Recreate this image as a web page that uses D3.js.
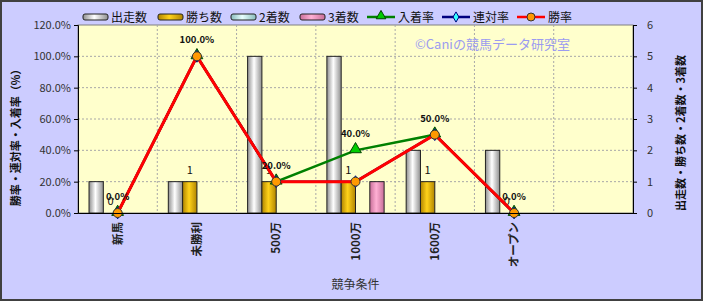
<!DOCTYPE html>
<html>
<head>
<meta charset="utf-8">
<script src="https://cdn.jsdelivr.net/npm/d3@7"></script>
<style>
body { margin: 0; background: #fff; }
text { font-family: "Noto Sans CJK JP", "DejaVu Sans", sans-serif; }
</style>
</head>
<body>
<div id="chart"></div>
<script>
var svgWidth = 703;
var svgHeight = 301;

// data
var categories = ["新馬", "未勝利", "500万", "1000万", "1600万", "オープン", ""];
var starts = [1, 1, 5, 5, 2, 2, null];      // 出走数
var wins = [0, 1, 1, 1, 1, 0, null];        // 勝ち数
var seconds = [0, 0, 0, 0, 0, 0, null];     // 2着数
var thirds = [0, 0, 0, 1, 0, 0, null];      // 3着数
var placeRate = [0, 1, 0.2, 0.4, 0.5, 0];   // 入着率
var top2Rate = [0, 1, 0.2, 0.2, 0.5, 0];    // 連対率
var winRate = [0, 1, 0.2, 0.2, 0.5, 0];     // 勝率
var leftTicks = [0, 0.2, 0.4, 0.6, 0.8, 1.0, 1.2];
var rightTicks = [0, 1, 2, 3, 4, 5, 6];

var plot = { left: 78, right: 633, top: 25, bottom: 213 };

var svg = d3.select("#chart").append("svg")
    .attr("width", svgWidth)
    .attr("height", svgHeight);

var defs = svg.append("defs");
function grad(id, edge, mid) {
    var g = defs.append("linearGradient").attr("id", id)
        .attr("x1", "0").attr("x2", "1").attr("y1", "0").attr("y2", "0");
    g.append("stop").attr("offset", "0%").attr("stop-color", edge);
    g.append("stop").attr("offset", "45%").attr("stop-color", mid);
    g.append("stop").attr("offset", "100%").attr("stop-color", edge);
}
grad("gWhite", "#8f8f8f", "#ffffff");
grad("gGold", "#b08400", "#ffd21a");
grad("gCyan", "#88bbbb", "#e8ffff");
grad("gPink", "#c86e98", "#ffb0d4");

// chart background and frame
svg.append("rect").attr("x", 1).attr("y", 1).attr("width", svgWidth - 2).attr("height", svgHeight - 2)
    .attr("fill", "#ccccff").attr("stroke", "#404040").attr("stroke-width", 2);

svg.append("rect").attr("x", plot.left).attr("y", plot.top)
    .attr("width", plot.right - plot.left).attr("height", plot.bottom - plot.top)
    .attr("fill", "#ffffcc").attr("stroke", "#808080");

var x = d3.scaleBand().domain(categories).range([plot.left, plot.right]).padding(0);
var series = ["starts", "wins", "seconds", "thirds"];
var xs = d3.scaleBand().domain(series).range([0, x.bandwidth()]).paddingInner(0).paddingOuter(0.77);
var yL = d3.scaleLinear().domain([0, 1.2]).range([plot.bottom, plot.top]);
var yR = d3.scaleLinear().domain([0, 6]).range([plot.bottom, plot.top]);

// grid
var grid = svg.append("g").attr("stroke", "#a8a8a8").attr("stroke-dasharray", "2,2");
leftTicks.slice(1, -1).forEach(function (t) {
    grid.append("line").attr("x1", plot.left).attr("x2", plot.right)
        .attr("y1", yL(t)).attr("y2", yL(t));
});
categories.slice(1).forEach(function (c) {
    grid.append("line").attr("x1", x(c)).attr("x2", x(c))
        .attr("y1", plot.top).attr("y2", plot.bottom);
});

// watermark
svg.append("text").attr("x", 415).attr("y", 49)
    .attr("font-size", 13).attr("fill", "#9b9bf0")
    .text("©Caniの競馬データ研究室");

// bars
var barData = { starts: starts, wins: wins, seconds: seconds, thirds: thirds };
var barFill = { starts: "url(#gWhite)", wins: "url(#gGold)", seconds: "url(#gCyan)", thirds: "url(#gPink)" };
series.forEach(function (s) {
    svg.append("g").selectAll("rect")
        .data(categories.map(function (c, i) { return { c: c, v: barData[s][i] }; })
            .filter(function (d) { return d.v; }))
        .join("rect")
        .attr("x", function (d) { return x(d.c) + xs(s); })
        .attr("width", xs.bandwidth())
        .attr("y", function (d) { return yR(d.v); })
        .attr("height", function (d) { return yR(0) - yR(d.v); })
        .attr("fill", barFill[s])
        .attr("stroke", "#222").attr("stroke-width", 1);
});

// win count labels
svg.append("g").selectAll("text")
    .data(categories.map(function (c, i) { return { c: c, v: wins[i] }; })
        .filter(function (d) { return d.v !== null; }))
    .join("text")
    .attr("x", function (d) { return x(d.c) + xs("wins") + xs.bandwidth() / 2; })
    .attr("y", function (d) { return yR(d.v) - 8; })
    .attr("text-anchor", "middle").attr("font-size", 11).attr("fill", "#111")
    .text(function (d) { return d.v; });

// lines
var cx = function (i) { return x(categories[i]) + x.bandwidth() / 2; };
function drawLine(vals, color, width, marker) {
    var line = d3.line().x(function (d, i) { return cx(i); }).y(function (d) { return yL(d); });
    svg.append("path").datum(vals).attr("d", line)
        .attr("fill", "none").attr("stroke", color).attr("stroke-width", width);
    var g = svg.append("g");
    vals.forEach(function (v, i) {
        var px = cx(i), py = yL(v);
        if (marker === "tri") {
            g.append("path").attr("d", d3.symbol(d3.symbolTriangle, 60)())
                .attr("transform", "translate(" + px + "," + (py - 1) + ")")
                .attr("fill", "#00cc00").attr("stroke", "#004400");
        } else if (marker === "dia") {
            g.append("path").attr("d", d3.symbol(d3.symbolDiamond, 40)())
                .attr("transform", "translate(" + px + "," + py + ")")
                .attr("fill", "#33ffff").attr("stroke", "#000080");
        } else {
            g.append("circle").attr("cx", px).attr("cy", py).attr("r", 4.5)
                .attr("fill", "#ff9900").attr("stroke", "#333");
        }
    });
}
drawLine(placeRate, "#008000", 2.5, "tri");
drawLine(top2Rate, "#000080", 2.5, "dia");
drawLine(winRate, "#ff0000", 3, "circ");

// rate labels
svg.append("g").selectAll("text")
    .data(placeRate)
    .join("text")
    .attr("x", function (d, i) { return cx(i); })
    .attr("y", function (d) { return yL(d) - 13; })
    .attr("text-anchor", "middle").attr("font-size", 9.5).attr("font-weight", "bold").attr("fill", "#111")
    .text(function (d) { return (d * 100).toFixed(1) + "%"; });

// axes
var axL = svg.append("g").attr("transform", "translate(" + plot.left + ",0)")
    .call(d3.axisLeft(yL).tickValues(leftTicks).tickSize(4).tickFormat(function (d) { return (d * 100).toFixed(1) + "%"; }));
var axR = svg.append("g").attr("transform", "translate(" + plot.right + ",0)")
    .call(d3.axisRight(yR).tickValues(rightTicks).tickSize(4).tickPadding(10).tickFormat(d3.format("d")));
var axB = svg.append("g").attr("transform", "translate(0," + plot.bottom + ")")
    .call(d3.axisBottom(x).tickSize(0).tickFormat(""));
[axL, axR, axB].forEach(function (a) {
    a.select(".domain").attr("stroke", "#000");
    a.selectAll(".tick line").attr("stroke", "#000");
    a.selectAll("text").attr("font-size", 11).attr("fill", "#333")
        .attr("font-family", "\"Noto Sans CJK JP\", sans-serif");
});

// category labels, rotated
svg.append("g").selectAll("text")
    .data(categories)
    .join("text")
    .attr("transform", function (d) { return "translate(" + (x(d) + x.bandwidth() / 2 + 4) + ",222) rotate(-90)"; })
    .attr("text-anchor", "end").attr("font-size", 11.5).attr("font-weight", "bold").attr("fill", "#222")
    .text(function (d) { return d; });

// axis titles
svg.append("text").attr("x", (plot.left + plot.right) / 2).attr("y", 289)
    .attr("text-anchor", "middle").attr("font-size", 12).attr("fill", "#333").text("競争条件");
svg.append("text").attr("transform", "translate(20,135) rotate(-90)")
    .attr("text-anchor", "middle").attr("font-size", 11).attr("font-weight", "bold").attr("fill", "#111").text("勝率・連対率・入着率（%）");
svg.append("text").attr("transform", "translate(685,133) rotate(-90)")
    .attr("text-anchor", "middle").attr("font-size", 11).attr("font-weight", "bold").attr("fill", "#111").text("出走数・勝ち数・2着数・3着数");

// legend
var legend = svg.append("g").attr("font-size", 12).attr("fill", "#111");
var barLegend = [["出走数", "url(#gWhite)", 83], ["勝ち数", "url(#gGold)", 158], ["2着数", "url(#gCyan)", 231], ["3着数", "url(#gPink)", 300]];
barLegend.forEach(function (b) {
    legend.append("rect").attr("x", b[2]).attr("y", 14).attr("width", 25).attr("height", 6).attr("rx", 2)
        .attr("fill", b[1]).attr("stroke", "#222");
    legend.append("text").attr("x", b[2] + 28).attr("y", 22).text(b[0]);
});
var lineLegend = [["入着率", "#008000", 367, "tri"], ["連対率", "#000080", 442, "dia"], ["勝率", "#ff0000", 517, "circ"]];
lineLegend.forEach(function (b) {
    legend.append("line").attr("x1", b[2]).attr("x2", b[2] + 28).attr("y1", 17).attr("y2", 17)
        .attr("stroke", b[1]).attr("stroke-width", 2.5);
    var m = b[2] + 14;
    if (b[3] === "tri") {
        legend.append("path").attr("d", d3.symbol(d3.symbolTriangle, 40)()).attr("transform", "translate(" + m + ",16)")
            .attr("fill", "#00cc00").attr("stroke", "#004400");
    } else if (b[3] === "dia") {
        legend.append("path").attr("d", d3.symbol(d3.symbolDiamond, 30)()).attr("transform", "translate(" + m + ",17)")
            .attr("fill", "#33ffff").attr("stroke", "#000080");
    } else {
        legend.append("circle").attr("cx", m).attr("cy", 17).attr("r", 4).attr("fill", "#ff9900").attr("stroke", "#333");
    }
    legend.append("text").attr("x", b[2] + 31).attr("y", 22).text(b[0]);
});
</script>
</body>
</html>
